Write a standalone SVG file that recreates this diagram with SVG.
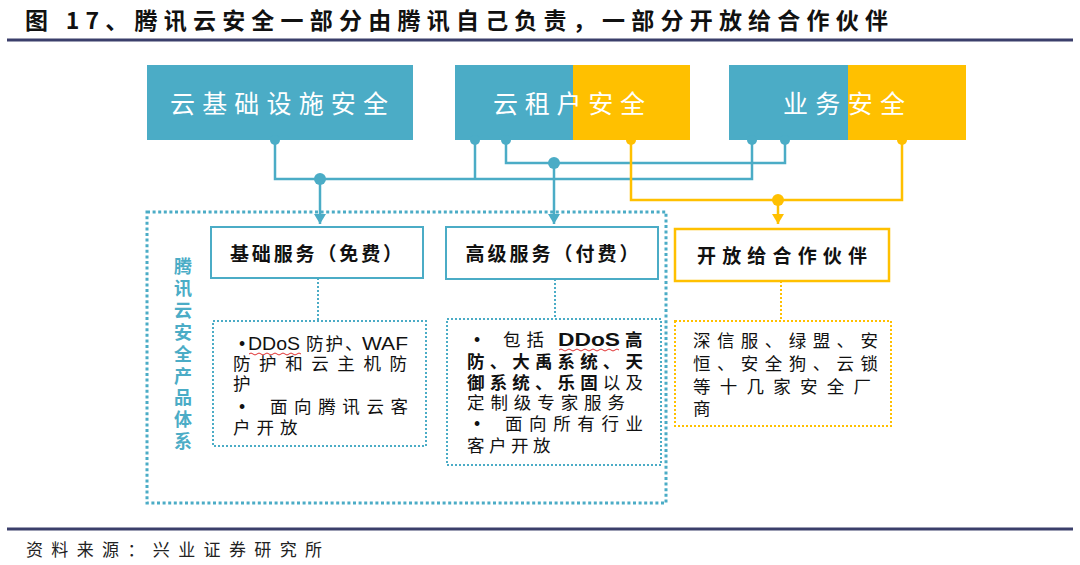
<svg xmlns="http://www.w3.org/2000/svg" width="1080" height="565" viewBox="0 0 1080 565">
<defs>
<style>
.cjk{font-family:"Noto Sans CJK SC","Liberation Sans",sans-serif}
.lat{font-family:"Liberation Sans","Noto Sans CJK SC",sans-serif}
.title{font-size:23px;font-weight:700;fill:#111}
.hdr{font-size:25px;fill:#fff;text-anchor:middle}
.sub{font-size:19px;font-weight:700;fill:#111;text-anchor:middle}
.body{font-size:17.5px;fill:#111}
.bold{font-weight:700}
.blue{fill:#4bacc6}
.yel{fill:#ffc000}
.cb{fill:none;stroke:#4bacc6;stroke-width:2.5}
.cy{fill:none;stroke:#ffc000;stroke-width:2.5}
.dotb{fill:none;stroke:#4bacc6;stroke-width:2;stroke-dasharray:2 2}
.doty{fill:none;stroke:#ffc000;stroke-width:2;stroke-dasharray:2 2}
.rule{stroke:#3b3f6b;stroke-width:3}
.sq{fill:none;stroke:#e03030;stroke-width:1}
</style>
<marker id="ab" markerUnits="userSpaceOnUse" markerWidth="10" markerHeight="12" refX="10" refY="6" orient="auto"><path d="M0,0 L10,6 L0,12 z" fill="#4bacc6"/></marker>
<marker id="ay" markerUnits="userSpaceOnUse" markerWidth="10" markerHeight="12" refX="10" refY="6" orient="auto"><path d="M0,0 L10,6 L0,12 z" fill="#ffc000"/></marker>
</defs>
<rect width="1080" height="565" fill="#fff"/>
<text class="cjk title" x="25" y="29" textLength="863" lengthAdjust="spacing">图 17、腾讯云安全一部分由腾讯自己负责，一部分开放给合作伙伴</text>
<line class="rule" x1="7" y1="40" x2="1073" y2="40"/>

<g id="node-infra">
<rect x="147" y="65" width="266" height="75" class="blue"/>
<circle cx="275" cy="140" r="5" class="blue"/>
<text class="cjk hdr" x="279" y="113" textLength="218" lengthAdjust="spacing">云基础设施安全</text>
</g>
<g id="node-tenant">
<rect x="455" y="65" width="118" height="75" class="blue"/>
<rect x="573" y="65" width="117" height="75" class="yel"/>
<circle cx="475" cy="140" r="5" class="blue"/>
<circle cx="506" cy="140" r="5" class="blue"/>
<circle cx="631" cy="140" r="5" class="yel"/>
<text class="cjk hdr" x="569" y="113" textLength="152" lengthAdjust="spacing">云租户安全</text>
</g>
<g id="node-biz">
<rect x="729" y="65" width="119" height="75" class="blue"/>
<rect x="848" y="65" width="118" height="75" class="yel"/>
<circle cx="752" cy="140" r="5" class="blue"/>
<circle cx="785" cy="140" r="5" class="blue"/>
<circle cx="902" cy="140" r="5" class="yel"/>
<text class="cjk hdr" x="844" y="113" textLength="122" lengthAdjust="spacing">业务安全</text>
</g>

<g id="connectors">
<path class="cb" d="M275,140 V179 H752 V140"/>
<path class="cb" d="M475,140 V179"/>
<path class="cb" d="M506,140 V163 H785 V140"/>
<path class="cb" d="M320,179 V224" marker-end="url(#ab)"/>
<path class="cb" d="M554,163 V224" marker-end="url(#ab)"/>
<path class="cy" d="M631,140 V200 H902 V140"/>
<path class="cy" d="M778,200 V224" marker-end="url(#ay)"/>
<circle cx="320" cy="179" r="6" class="blue"/>
<circle cx="554" cy="163" r="6" class="blue"/>
<circle cx="778" cy="200" r="6" class="yel"/>
<path class="dotb" d="M318,278 V321"/>
<path class="dotb" d="M555,279 V319"/>
<path class="doty" d="M781,281 V321"/>
</g>

<g id="group-tencent">
<rect x="147" y="212" width="519" height="291" fill="none" stroke="#4bacc6" stroke-width="3" stroke-dasharray="3 2.6"/>
<text class="cjk" font-size="18" font-weight="700" fill="#4bacc6" text-anchor="middle">
<tspan x="183" y="273">腾</tspan><tspan x="183" dy="21.9">讯</tspan><tspan x="183" dy="21.9">云</tspan><tspan x="183" dy="21.9">安</tspan><tspan x="183" dy="21.9">全</tspan><tspan x="183" dy="21.9">产</tspan><tspan x="183" dy="21.9">品</tspan><tspan x="183" dy="21.9">体</tspan><tspan x="183" dy="21.9">系</tspan>
</text>
</g>

<g id="node-basic">
<rect x="211" y="227" width="212" height="51" fill="#fff" stroke="#4bacc6" stroke-width="2"/>
<text class="cjk sub" x="316" y="261" textLength="172" lengthAdjust="spacing">基础服务（免费）</text>
</g>
<g id="node-advanced">
<rect x="446" y="227" width="212" height="52" fill="#fff" stroke="#4bacc6" stroke-width="2"/>
<text class="cjk sub" x="552" y="261" textLength="173" lengthAdjust="spacing">高级服务（付费）</text>
</g>
<g id="node-partner">
<rect x="675" y="229" width="214" height="52" fill="#fff" stroke="#ffc000" stroke-width="2.5"/>
<text class="cjk sub" x="782" y="263" textLength="170" lengthAdjust="spacing">开放给合作伙伴</text>
</g>

<g id="node-basic-desc">
<rect x="213" y="321" width="213" height="125" fill="none" stroke="#4bacc6" stroke-width="2" stroke-dasharray="2 2"/>
<text class="lat body" x="239" y="350">•</text>
<text class="lat body" x="248" y="350" textLength="52" lengthAdjust="spacingAndGlyphs" font-size="19">DDoS</text>
<path class="sq" d="M249,354 q2,-2 4,0 t4,0 t4,0 t4,0 t4,0 t4,0 t4,0 t4,0 t4,0 t4,0 t4,0 t4,0 t4,0"/>
<text class="cjk body" x="306" y="350" letter-spacing="2">防护、</text>
<text class="lat body" x="362" y="350" textLength="46" lengthAdjust="spacingAndGlyphs" font-size="19">WAF</text>
<text class="cjk body" x="233" y="370" textLength="174" lengthAdjust="spacing">防护和云主机防</text>
<text class="cjk body" x="233" y="390">护</text>
<text class="lat body" x="239" y="413">•</text>
<text class="cjk body" x="270" y="413" textLength="138" lengthAdjust="spacing">面向腾讯云客</text>
<text class="cjk body" x="233" y="434" letter-spacing="6">户开放</text>
</g>

<g id="node-advanced-desc">
<rect x="447" y="319" width="214" height="146" fill="none" stroke="#4bacc6" stroke-width="2" stroke-dasharray="2 2"/>
<text class="lat body" x="474" y="346">•</text>
<text class="cjk body" x="503" y="346" letter-spacing="6">包括</text>
<text class="lat body bold" x="558" y="346" textLength="62" lengthAdjust="spacingAndGlyphs" font-size="19">DDoS</text>
<path class="sq" d="M559,350 q2,-2 4,0 t4,0 t4,0 t4,0 t4,0 t4,0 t4,0 t4,0 t4,0 t4,0 t4,0 t4,0 t4,0 t4,0 t4,0"/>
<text class="cjk body bold" x="625" y="346">高</text>
<text class="cjk body bold" x="467" y="368" textLength="176" lengthAdjust="spacing">防、大禹系统、天</text>
<text class="cjk body" x="467" y="389" textLength="176" lengthAdjust="spacing"><tspan font-weight="700">御系统、乐固</tspan>以及</text>
<text class="cjk body" x="467" y="409" textLength="158" lengthAdjust="spacing">定制级专家服务</text>
<text class="lat body" x="474" y="430">•</text>
<text class="cjk body" x="505" y="430" textLength="138" lengthAdjust="spacing">面向所有行业</text>
<text class="cjk body" x="467" y="452" letter-spacing="4.5">客户开放</text>
</g>

<g id="node-partner-desc">
<rect x="675" y="321" width="216" height="105" fill="none" stroke="#ffc000" stroke-width="2" stroke-dasharray="2 2"/>
<text class="cjk body" x="693" y="347" textLength="185" lengthAdjust="spacing">深信服、绿盟、安</text>
<text class="cjk body" x="693" y="370" textLength="185" lengthAdjust="spacing">恒、安全狗、云锁</text>
<text class="cjk body" x="693" y="393" textLength="178" lengthAdjust="spacing">等十几家安全厂</text>
<text class="cjk body" x="693" y="415">商</text>
</g>

<line class="rule" x1="7" y1="529" x2="1073" y2="529"/>
<text class="cjk" font-size="17" fill="#222" x="26" y="556" textLength="296" lengthAdjust="spacing">资料来源：兴业证券研究所</text>
</svg>
